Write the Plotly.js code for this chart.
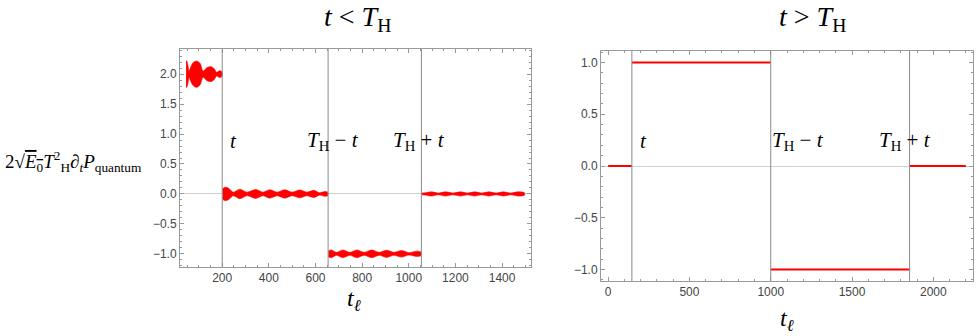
<!DOCTYPE html>
<html>
<head>
<meta charset="utf-8">
<script src="https://cdn.plot.ly/plotly-3.0.1.min.js"></script>
<style>
  html, body { margin: 0; padding: 0; background: #ffffff; }
  #plot { width: 980px; height: 336px; }
</style>
</head>
<body>
<div id="plot"></div>
<script>
// left panel (t < T_H): envelope of the fast oscillation
const seg1X = [45, 48, 53, 58, 63, 75, 90, 105, 118, 135, 152, 166, 176, 188, 199];
const seg1Hw = [0.22, 0.22, 0.15, 0.05, 0.1, 0.19, 0.22, 0.18, 0.05, 0.11, 0.125, 0.09, 0.03, 0.055, 0.04];
const seg2X = [201, 205, 219, 232, 247, 276, 306, 344, 374, 404, 436, 468, 500, 533, 563, 593, 617, 640, 652];
const seg2Hw = [0.06, 0.1, 0.11, 0.08, 0.03, 0.08, 0.03, 0.075, 0.03, 0.07, 0.03, 0.07, 0.03, 0.065, 0.03, 0.06, 0.02, 0.04, 0.03];
const seg3X = [655, 668, 690, 717, 747, 777, 809, 841, 873, 905, 937, 969, 1001, 1034, 1052];
const seg3Hw = [0.05, 0.065, 0.025, 0.065, 0.025, 0.065, 0.025, 0.065, 0.025, 0.06, 0.025, 0.055, 0.02, 0.045, 0.03];
const seg4X = [1056, 1070, 1097, 1127, 1158, 1190, 1221, 1252, 1282, 1313, 1343, 1375, 1406, 1437, 1468, 1496];
const seg4Hw = [0.015, 0.018, 0.035, 0.015, 0.035, 0.015, 0.035, 0.015, 0.035, 0.015, 0.035, 0.015, 0.035, 0.015, 0.035, 0.02];
const leftLevels = [2, 0, -1, 0];
const leftLines = [200, 654, 1054];

// right panel (t > T_H): step values
const rightEdges = [0, 146, 1000, 1854, 2200];
const rightLevels = [0, 1, -1, 0];
const rightLines = [146, 1000, 1854];

const leftLabels = ['<i>t</i>', '<i>T</i><sub>H</sub> − <i>t</i>', '<i>T</i><sub>H</sub> + <i>t</i>'];
const leftLabelX = [223, 557, 925];
const rightLabelX = [181, 996, 1654];

const W = 980, H = 336;
const red = '#ff0000';
const serif = 'Liberation Serif, Times New Roman, serif';

const traces = [];
const segs = [[seg1X, seg1Hw], [seg2X, seg2Hw], [seg3X, seg3Hw], [seg4X, seg4Hw]];
segs.forEach(([xs, hw], k) => {
    const lvl = leftLevels[k];
    const up = xs.map((x, i) => lvl + hw[i]);
    const lo = xs.map((x, i) => lvl - hw[i]).reverse();
    traces.push({
        x: xs.concat(xs.slice().reverse()),
        y: up.concat(lo),
        mode: 'lines',
        fill: 'toself',
        fillcolor: red,
        line: { color: red, width: 0.6, shape: 'spline', smoothing: 0.8 },
        xaxis: 'x', yaxis: 'y',
        hoverinfo: 'skip'
    });
});

// step function as separate segments
const rx = [], ry = [];
rightLevels.forEach((v, i) => {
    if (i > 0) { rx.push(null); ry.push(null); }
    rx.push(rightEdges[i], rightEdges[i + 1]);
    ry.push(v, v);
});
traces.push({
    x: rx, y: ry, mode: 'lines',
    line: { color: red, width: 2 },
    xaxis: 'x2', yaxis: 'y2',
    connectgaps: false,
    hoverinfo: 'skip'
});

const frameColor = '#9a9a9a';
const tickFont = { family: 'Liberation Sans, Arial, sans-serif', size: 12, color: '#444' };

function axisBase(extra) {
    return Object.assign({
        showline: true, mirror: 'ticks', linecolor: frameColor, linewidth: 1,
        ticks: 'inside', ticklen: 4, tickcolor: frameColor, tickwidth: 1,
        showgrid: false, zeroline: false, tickfont: tickFont, fixedrange: true
    }, extra);
}

const shapes = [];
leftLines.forEach(v => shapes.push({
    type: 'line', xref: 'x', yref: 'y domain', x0: v, x1: v, y0: 0, y1: 1,
    line: { color: '#8a8a8a', width: 1 }
}));
rightLines.forEach(v => shapes.push({
    type: 'line', xref: 'x2', yref: 'y2 domain', x0: v, x1: v, y0: 0, y1: 1,
    line: { color: '#8a8a8a', width: 1 }
}));

const annotations = [];
leftLabels.forEach((t, i) => {
    annotations.push({ xref: 'x', yref: 'y', x: leftLabelX[i], y: 0.89, text: t,
        showarrow: false, xanchor: 'left', yanchor: 'middle', font: { family: serif, size: 21, color: '#000' } });
    annotations.push({ xref: 'x2', yref: 'y2', x: rightLabelX[i], y: 0.245, text: t,
        showarrow: false, xanchor: 'left', yanchor: 'middle', font: { family: serif, size: 21, color: '#000' } });
});
annotations.push({ xref: 'paper', yref: 'paper', x: 357 / W, y: 1 - 18 / H,
    text: '<i>t</i> &lt; <i>T</i><sub>H</sub>', showarrow: false,
    xanchor: 'center', yanchor: 'middle', font: { family: serif, size: 28, color: '#000' } });
annotations.push({ xref: 'paper', yref: 'paper', x: 812 / W, y: 1 - 18 / H,
    text: '<i>t</i> &gt; <i>T</i><sub>H</sub>', showarrow: false,
    xanchor: 'center', yanchor: 'middle', font: { family: serif, size: 28, color: '#000' } });
annotations.push({ xref: 'paper', yref: 'paper', x: 354 / W, y: 1 - 300 / H,
    text: '<i>t</i><sub><i>ℓ</i></sub>', showarrow: false,
    xanchor: 'center', yanchor: 'middle', font: { family: serif, size: 24, color: '#000' } });
annotations.push({ xref: 'paper', yref: 'paper', x: 787 / W, y: 1 - 320 / H,
    text: '<i>t</i><sub><i>ℓ</i></sub>', showarrow: false,
    xanchor: 'center', yanchor: 'middle', font: { family: serif, size: 24, color: '#000' } });
annotations.push({ xref: 'paper', yref: 'paper', x: 3 / W, y: 1 - 161 / H,
    text: '2√<span style="text-decoration:overline"><i>E</i><sub>0</sub></span><i>T</i><sup>2</sup><sub>H</sub>∂<sub><i>t</i></sub><i>P</i><sub>quantum</sub>',
    showarrow: false, xanchor: 'left', yanchor: 'middle', font: { family: serif, size: 19, color: '#000' } });

const layout = {
    width: W, height: H,
    margin: { l: 0, r: 0, t: 0, b: 0 },
    paper_bgcolor: '#ffffff', plot_bgcolor: '#ffffff',
    showlegend: false,
    xaxis: axisBase({ domain: [180 / W, 531 / W], range: [19, 1524], anchor: 'y',
        tick0: 0, dtick: 200, minor: { dtick: 50, ticks: 'inside', ticklen: 2, tickcolor: frameColor } }),
    yaxis: axisBase({ domain: [1 - 267 / H, 1 - 49 / H], range: [-1.22, 2.42], anchor: 'x',
        tick0: 0, dtick: 0.5, tickformat: '.1f', zeroline: true, zerolinecolor: '#d0d0d0', zerolinewidth: 1,
        minor: { dtick: 0.1, ticks: 'inside', ticklen: 2, tickcolor: frameColor } }),
    xaxis2: axisBase({ domain: [601 / W, 973 / W], range: [-44, 2244], anchor: 'y2',
        tick0: 0, dtick: 500, minor: { dtick: 100, ticks: 'inside', ticklen: 2, tickcolor: frameColor } }),
    yaxis2: axisBase({ domain: [1 - 281 / H, 1 - 51 / H], range: [-1.11, 1.11], anchor: 'x2',
        tick0: 0, dtick: 0.5, tickformat: '.1f', zeroline: true, zerolinecolor: '#d0d0d0', zerolinewidth: 1,
        minor: { dtick: 0.1, ticks: 'inside', ticklen: 2, tickcolor: frameColor } }),
    shapes: shapes,
    annotations: annotations
};

Plotly.newPlot('plot', traces, layout, { staticPlot: true, displayModeBar: false });
</script>
</body>
</html>
